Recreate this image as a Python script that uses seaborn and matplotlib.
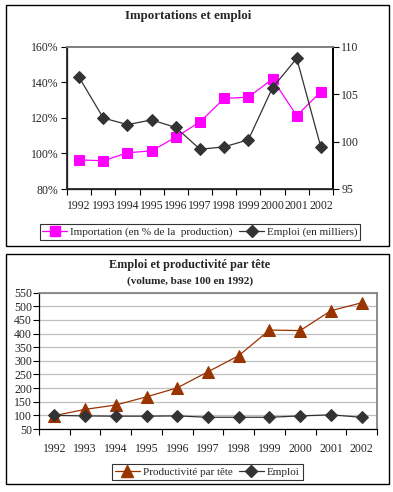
import matplotlib
matplotlib.use("Agg")
import matplotlib.pyplot as plt
import seaborn as sns
import pandas as pd
import numpy as np
from matplotlib.patches import Rectangle
from matplotlib.lines import Line2D

years = ["1992", "1993", "1994", "1995", "1996", "1997", "1998", "1999", "2000", "2001", "2002"]
importation = [96.4, 95.9, 100.4, 101.5, 109.2, 117.8, 131.0, 131.8, 141.9, 121.3, 134.8]
emploi_milliers = [106.8, 102.5, 101.8, 102.3, 101.5, 99.2, 99.45, 100.2, 105.7, 108.8, 99.4]
productivite = [99, 122, 138, 168, 201, 260, 319, 413, 411, 484, 513]
emploi_indice = [100, 98, 97, 97, 98, 93, 93, 93, 98, 102, 93]

sns.set_theme(style="white")
plt.rcParams['font.family'] = ['Liberation Serif', 'DejaVu Serif']

W, H = 393, 492
fig = plt.figure(figsize=(W / 100, H / 100), dpi=100)

def fx(px):
    return px / W

def fy(py):
    return 1 - py / H

# Frames around the two panels
for (x0, y0, x1, y1) in [(6, 5, 389, 246), (6, 254, 389, 484)]:
    fig.patches.append(Rectangle((fx(x0), fy(y1)), fx(x1 - x0), (y1 - y0) / H,
                                 transform=fig.transFigure, fill=False,
                                 edgecolor="black", linewidth=1.0))

n = len(years)
pos = np.arange(n)
df = pd.DataFrame({"pos": pos, "imp": importation, "emp": emploi_milliers,
                   "prod": productivite, "empi": emploi_indice})

# ---------- Top chart ----------
ax1 = fig.add_axes([fx(67), fy(189), fx(333 - 67), (189 - 47) / H])
sns.lineplot(data=df, x="pos", y="imp", ax=ax1, color="#ff00ff", marker="s",
             markersize=6.5, markeredgecolor="#ff00ff", linewidth=0.9)
ax1.set_ylim(80, 160)
ax1.set_yticks([80, 100, 120, 140, 160])
ax1.set_yticklabels(["80%", "100%", "120%", "140%", "160%"])
ax1.set_xlim(-0.5, n - 0.5)
ax1.set_xticks(np.arange(-0.5, n, 1.0))
ax1.set_xticklabels([])
ax1.set_xticks(pos, minor=True)
ax1.set_xticklabels(years, minor=True)
ax1.tick_params(axis="x", which="major", length=4, width=0.8, color="black", direction="out", bottom=True)
ax1.tick_params(axis="x", which="minor", length=0, pad=8, labelsize=8.5)
ax1.tick_params(axis="y", length=4, width=0.8, color="black", direction="out", left=True, labelsize=8.5, pad=2)
ax1.set_xlabel("")
ax1.set_ylabel("")
for s in ["left", "bottom"]:
    ax1.spines[s].set_color("black")
    ax1.spines[s].set_linewidth(0.9)
ax1.spines["top"].set_color("#808080")
ax1.spines["right"].set_color("black")
ax1.grid(False)

ax2 = ax1.twinx()
sns.lineplot(data=df, x="pos", y="emp", ax=ax2, color="#333333", marker="D",
             markersize=6, markeredgecolor="#333333", linewidth=0.9)
ax2.set_ylim(95, 110)
ax2.set_yticks([95, 100, 105, 110])
ax2.set_yticklabels(["95", "100", "105", "110"])
ax2.tick_params(axis="y", length=4, width=0.8, color="black", direction="out", right=True, labelsize=8.5, pad=2)
ax2.set_ylabel("")
ax2.spines["right"].set_color("black")
ax2.spines["top"].set_color("#808080")
ax2.grid(False)

fig.text(fx(188), fy(16), "Importations et emploi", ha="center", va="center",
         fontsize=9.3, fontweight="bold")

h1 = Line2D([], [], color="#ff00ff", marker="s", markersize=6.5, linewidth=0.9)
h2 = Line2D([], [], color="#333333", marker="D", markersize=6, linewidth=0.9)
leg1 = fig.legend([h1, h2], ["Importation (en % de la  production)", "Emploi (en milliers)"],
                  loc="center", bbox_to_anchor=(fx(200), fy(232)), ncol=2,
                  fontsize=8, frameon=True, fancybox=False, borderpad=0.25,
                  handlelength=2.2, handletextpad=0.3, columnspacing=0.6,
                  borderaxespad=0)
leg1.get_frame().set_edgecolor("black")
leg1.get_frame().set_linewidth(0.8)

# ---------- Bottom chart ----------
ax3 = fig.add_axes([fx(39), fy(429), fx(377 - 39), (429 - 292.7) / H])
sns.lineplot(data=df, x="pos", y="prod", ax=ax3, color="#993300", marker="^",
             markersize=8, markeredgecolor="#993300", linewidth=0.9, zorder=3)
sns.lineplot(data=df, x="pos", y="empi", ax=ax3, color="#333333", marker="D",
             markersize=6, markeredgecolor="#333333", linewidth=0.9, zorder=3)
ax3.set_ylim(50, 550)
ax3.set_yticks(np.arange(50, 551, 50))
ax3.set_xlim(-0.5, n - 0.5)
ax3.set_xticks(np.arange(-0.5, n, 1.0))
ax3.set_xticklabels([])
ax3.set_xticks(pos, minor=True)
ax3.set_xticklabels(years, minor=True)
ax3.tick_params(axis="x", which="major", length=4, width=0.8, color="black", direction="out", bottom=True)
ax3.tick_params(axis="x", which="minor", length=0, pad=10, labelsize=8.5)
ax3.tick_params(axis="y", length=4, width=0.8, color="black", direction="out", left=True, labelsize=8.5, pad=1)
ax3.set_xlabel("")
ax3.set_ylabel("")
ax3.yaxis.grid(True, color="#c0c0c0", linewidth=0.9)
ax3.xaxis.grid(False)
ax3.set_axisbelow(True)
for s in ["left", "bottom"]:
    ax3.spines[s].set_color("black")
    ax3.spines[s].set_linewidth(0.9)
for s in ["top", "right"]:
    ax3.spines[s].set_color("#808080")

fig.text(fx(190), fy(265), "Emploi et productivité par tête", ha="center", va="center",
         fontsize=8.8, fontweight="bold")
fig.text(fx(190), fy(281), "(volume, base 100 en 1992)", ha="center", va="center",
         fontsize=8, fontweight="bold")

h3 = Line2D([], [], color="#993300", marker="^", markersize=8, linewidth=0.9)
h4 = Line2D([], [], color="#333333", marker="D", markersize=6, linewidth=0.9)
leg2 = fig.legend([h3, h4], ["Productivité par tête", "Emploi"],
                  loc="center", bbox_to_anchor=(fx(207.5), fy(472)), ncol=2,
                  fontsize=8, frameon=True, fancybox=False, borderpad=0.3,
                  handlelength=2.2, handletextpad=0.3, columnspacing=0.6,
                  borderaxespad=0)
leg2.get_frame().set_edgecolor("black")
leg2.get_frame().set_linewidth(0.8)

fig.savefig("out.png", dpi=100)
